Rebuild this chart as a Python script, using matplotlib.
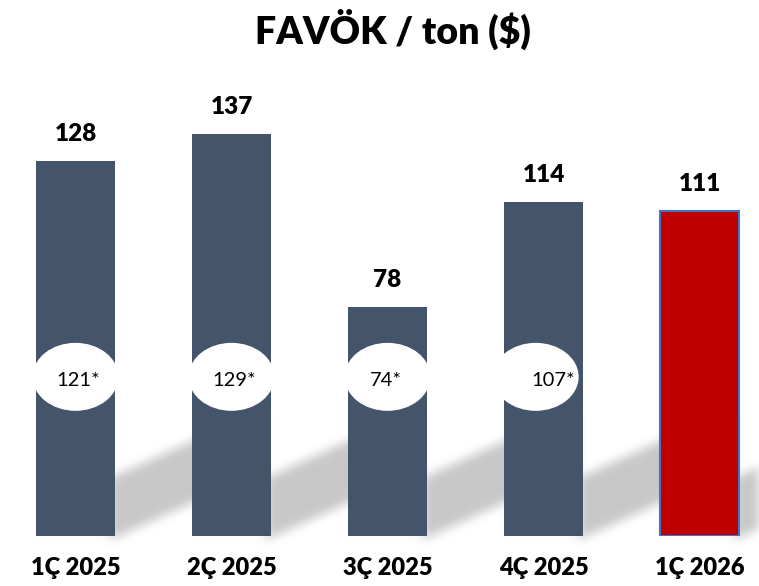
import numpy as np
import matplotlib
matplotlib.use("Agg")
import matplotlib.pyplot as plt
from matplotlib.patches import Ellipse

plt.rcParams['font.family'] = ['Lato', 'DejaVu Sans']

# Data
categories = ['1Ç 2025', '2Ç 2025', '3Ç 2025', '4Ç 2025', '1Ç 2026']
favok_per_ton = [128, 137, 78, 114, 111]
adjusted_labels = ['121*', '129*', '74*', '107*']

W, H = 759, 586
fig = plt.figure(figsize=(W / 100, H / 100), dpi=100)

# Main axes (transparent, on top of the shadow layer)
ax = fig.add_axes([0, 50 / H, 1, 469 / H], zorder=2)
ax.patch.set_alpha(0)
x = np.arange(len(categories))
bar_w = 0.506
colors = ['#44546A'] * 4 + ['#C00000']
edges = ['#44546A'] * 4 + ['#4472C4']
lws = [0, 0, 0, 0, 1.5]
bars = ax.bar(x, favok_per_ton, width=bar_w, color=colors, edgecolor=edges, linewidth=lws, zorder=2)
ax.set_xlim(-0.484, 4.381)
ax.set_ylim(0, 160)
ax.axis('off')

# Value labels above bars and category labels below
for xi, v in zip(x, favok_per_ton):
    ax.text(xi, v + 9.2, str(v), ha='center', va='center', fontsize=17.5, fontweight='heavy')
for xi, c in zip(x, categories):
    ax.text(xi, -11, c, ha='center', va='center', fontsize=17, fontweight='heavy')

# White ellipses with the adjusted values
ell_off = [0.0, 0.0, 0.0, -0.05]
txt_off = [0.02, 0.02, -0.01, 0.06]
for i, lab in enumerate(adjusted_labels):
    ax.add_patch(Ellipse((x[i] + ell_off[i], 54.3), 0.55, 23.2, facecolor='white',
                         edgecolor='none', zorder=3))
    ax.text(x[i] + txt_off[i], 53.2, lab, ha='center', va='center', fontsize=14.5, zorder=4)

# Soft cast shadows behind the bars, built from the bar positions
A = np.zeros((H, W))
for i in range(len(x)):
    xl, yb_disp = ax.transData.transform((x[i] - bar_w / 2, 0))
    xr, _ = ax.transData.transform((x[i] + bar_w / 2, 0))
    yb = H - yb_disp
    for col in range(int(xr) - 4, min(W, int(xr) + 150)):
        bottom = yb + 2 - 0.45 * (col - xr)
        top = bottom - 62
        A[max(int(top), 0):int(bottom), col] = 0.22
    A[int(yb):int(yb) + 3, int(xl):int(xr) + 4] = np.maximum(A[int(yb):int(yb) + 3, int(xl):int(xr) + 4], 0.05)

sigma = 5
k = np.exp(-0.5 * (np.arange(-15, 16) / sigma) ** 2)
k /= k.sum()
A = np.apply_along_axis(lambda r: np.convolve(r, k, mode='same'), 1, A)
A = np.apply_along_axis(lambda r: np.convolve(r, k, mode='same'), 0, A)

rgba = np.zeros((H, W, 4))
rgba[..., 3] = A
bg = fig.add_axes([0, 0, 1, 1], zorder=0)
bg.imshow(rgba, extent=(0, W, H, 0), aspect='auto', interpolation='bilinear')
bg.set_xlim(0, W)
bg.set_ylim(H, 0)
bg.axis('off')

fig.text(393 / W, 1 - 29 / H, 'FAVÖK / ton ($)', ha='center', va='center',
         fontsize=27, fontweight='heavy')

fig.savefig('out.png', dpi=100)
